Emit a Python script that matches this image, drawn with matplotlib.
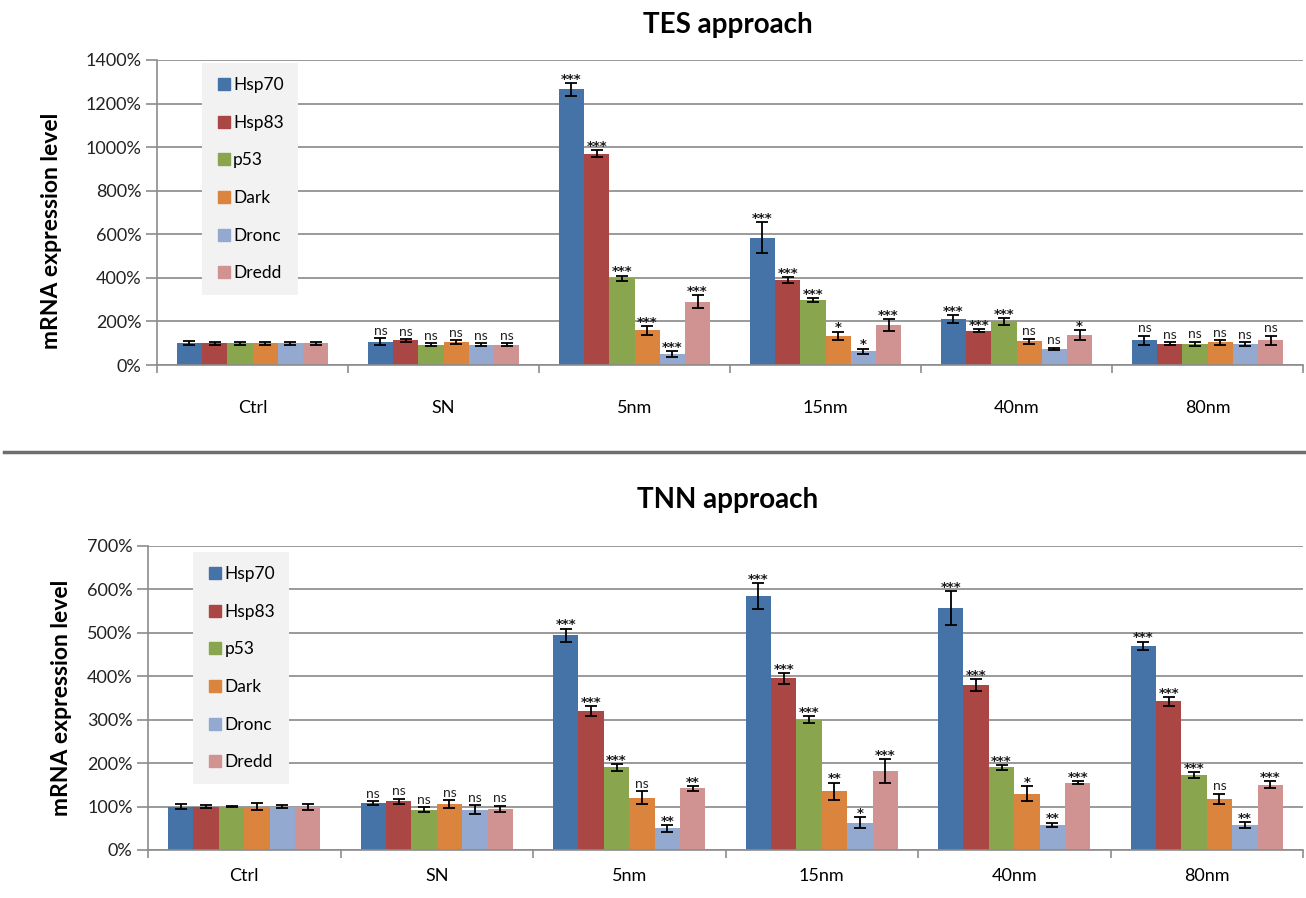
import numpy as np
import matplotlib
matplotlib.use("Agg")
import matplotlib.pyplot as plt
from matplotlib.lines import Line2D
from matplotlib.ticker import FuncFormatter, MultipleLocator

plt.rcParams['font.family'] = ['Lato', 'DejaVu Sans']

# groups along x and the genes in each group
groups = ['Ctrl', 'SN', '5nm', '15nm', '40nm', '80nm']
genes = ['Hsp70', 'Hsp83', 'p53', 'Dark', 'Dronc', 'Dredd']
colors = ['#4572A7', '#AA4643', '#89A54E', '#DB843D', '#93A9CF', '#D19392']

# TES approach: mean expression (%) per group, one row per gene
tes_hsp70 = [100, 107, 1265, 585, 210, 113]
tes_hsp83 = [100, 113, 970, 390, 158, 98]
tes_p53 = [100, 93, 398, 298, 200, 97]
tes_dark = [100, 105, 160, 133, 108, 104]
tes_dronc = [100, 93, 50, 62, 75, 96]
tes_dredd = [100, 93, 290, 183, 137, 113]

tes_err_hsp70 = [8, 15, 30, 70, 18, 22]
tes_err_hsp83 = [6, 6, 15, 15, 8, 8]
tes_err_p53 = [6, 6, 12, 8, 15, 10]
tes_err_dark = [6, 10, 20, 20, 12, 10]
tes_err_dronc = [6, 6, 12, 13, 5, 10]
tes_err_dredd = [6, 8, 30, 28, 22, 22]

tes_sig_hsp70 = ['', 'ns', '***', '***', '***', 'ns']
tes_sig_hsp83 = ['', 'ns', '***', '***', '***', 'ns']
tes_sig_p53 = ['', 'ns', '***', '***', '***', 'ns']
tes_sig_dark = ['', 'ns', '***', '*', 'ns', 'ns']
tes_sig_dronc = ['', 'ns', '***', '*', 'ns', 'ns']
tes_sig_dredd = ['', 'ns', '***', '***', '*', 'ns']

# TNN approach
tnn_hsp70 = [100, 108, 495, 585, 557, 470]
tnn_hsp83 = [100, 112, 320, 395, 380, 342]
tnn_p53 = [100, 93, 190, 300, 190, 173]
tnn_dark = [100, 105, 120, 135, 130, 118]
tnn_dronc = [100, 93, 50, 63, 58, 57]
tnn_dredd = [100, 95, 142, 182, 155, 150]

tnn_err_hsp70 = [6, 5, 15, 30, 40, 10]
tnn_err_hsp83 = [4, 6, 12, 13, 13, 10]
tnn_err_p53 = [1, 6, 8, 8, 5, 7]
tnn_err_dark = [8, 9, 15, 20, 18, 12]
tnn_err_dronc = [3, 10, 8, 13, 5, 7]
tnn_err_dredd = [7, 7, 5, 27, 3, 8]

tnn_sig_hsp70 = ['', 'ns', '***', '***', '***', '***']
tnn_sig_hsp83 = ['', 'ns', '***', '***', '***', '***']
tnn_sig_p53 = ['', 'ns', '***', '***', '***', '***']
tnn_sig_dark = ['', 'ns', 'ns', '**', '*', 'ns']
tnn_sig_dronc = ['', 'ns', '**', '*', '**', '**']
tnn_sig_dredd = ['', 'ns', '**', '***', '***', '***']

tes_values = [tes_hsp70, tes_hsp83, tes_p53, tes_dark, tes_dronc, tes_dredd]
tes_errors = [tes_err_hsp70, tes_err_hsp83, tes_err_p53, tes_err_dark, tes_err_dronc, tes_err_dredd]
tes_sigs = [tes_sig_hsp70, tes_sig_hsp83, tes_sig_p53, tes_sig_dark, tes_sig_dronc, tes_sig_dredd]
tnn_values = [tnn_hsp70, tnn_hsp83, tnn_p53, tnn_dark, tnn_dronc, tnn_dredd]
tnn_errors = [tnn_err_hsp70, tnn_err_hsp83, tnn_err_p53, tnn_err_dark, tnn_err_dronc, tnn_err_dredd]
tnn_sigs = [tnn_sig_hsp70, tnn_sig_hsp83, tnn_sig_p53, tnn_sig_dark, tnn_sig_dronc, tnn_sig_dredd]

W, H = 1306, 898
fig = plt.figure(figsize=(W / 100, H / 100), dpi=100)


def px_axes(left, right, top, bottom):
    return fig.add_axes([left / W, 1 - bottom / H, (right - left) / W, (bottom - top) / H])


def draw_panel(ax, values, errors, sigs, ymax, ystep, label_pad, legend_box, ylabel_xy):
    bar_w = 0.132
    centers = np.arange(len(groups)) + 0.5
    for i, gene in enumerate(genes):
        x = centers + (i - 2.5) * bar_w
        ax.bar(x, values[i], width=bar_w, color=colors[i], label=gene, zorder=2)
        ax.errorbar(x, values[i], yerr=errors[i], fmt='none', ecolor='black',
                    elinewidth=1.3, capsize=4, capthick=1.3, zorder=3)
        for xi, v, e, s in zip(x, values[i], errors[i], sigs[i]):
            if not s:
                continue
            if s == 'ns':
                ax.annotate(s, (xi, v + e), xytext=(0, 1), textcoords='offset points',
                            ha='center', va='bottom', fontsize=10, color='#222222')
            else:
                ax.annotate(s, (xi, v + e), xytext=(0, -2), textcoords='offset points',
                            ha='center', va='bottom', fontsize=9.5, color='#1a1a1a',
                            family='DejaVu Sans', fontweight='bold')

    ax.set_xlim(0, len(groups))
    ax.set_ylim(0, ymax)
    ax.yaxis.set_major_locator(MultipleLocator(ystep))
    ax.yaxis.set_major_formatter(FuncFormatter(lambda v, p: f'{v:.0f}%'))
    ax.grid(axis='y', color='#9a9a9a', linewidth=1.4)
    ax.set_axisbelow(True)

    # tick marks sit between groups, labels sit under the group centres
    ax.set_xticks(np.arange(len(groups) + 1))
    ax.set_xticklabels([])
    ax.set_xticks(centers, minor=True)
    ax.set_xticklabels(groups, minor=True, fontsize=13)
    ax.tick_params(axis='x', which='major', length=6, color='#8c8c8c', width=1.2, direction='out')
    ax.tick_params(axis='x', which='minor', length=0, pad=label_pad)
    ax.tick_params(axis='y', length=8, color='#8c8c8c', width=1.2, labelsize=13, pad=3,
                   labelcolor='#222222')

    for side in ['top', 'right']:
        ax.spines[side].set_visible(False)
    for side in ['left', 'bottom']:
        ax.spines[side].set_color('#8c8c8c')
        ax.spines[side].set_linewidth(1.2)

    ax.set_ylabel('mRNA expression level', fontsize=16.5, fontweight='bold')
    ax.yaxis.set_label_coords(*ylabel_xy)

    handles = [Line2D([], [], marker='s', linestyle='none', markersize=9,
                      markerfacecolor=c, markeredgecolor=c) for c in colors]
    leg = ax.legend(handles, genes, loc='upper left', bbox_to_anchor=legend_box,
                    fontsize=12.5, labelspacing=1.25, handletextpad=0.1, handlelength=0.9,
                    borderpad=0.8, borderaxespad=0, frameon=True, fancybox=False)
    leg.get_frame().set_facecolor('#f2f2f2')
    leg.get_frame().set_edgecolor('none')
    leg.get_frame().set_alpha(1)


ax_top = px_axes(157, 1303, 60, 365)
draw_panel(ax_top, tes_values, tes_errors, tes_sigs, 1400, 200, 25,
           ((202 - 157) / 1146, 0.99), (-0.083, 0.44))
fig.text(728 / W, 1 - 25 / H, 'TES approach', ha='center', va='center',
         fontsize=20, fontweight='bold')

ax_bot = px_axes(148, 1303, 546, 850)
draw_panel(ax_bot, tnn_values, tnn_errors, tnn_sigs, 700, 100, 13,
           ((193 - 148) / 1155, 0.98), (-0.066, 0.5))
fig.text(728 / W, 1 - 500 / H, 'TNN approach', ha='center', va='center',
         fontsize=20, fontweight='bold')

# divider between the two panels
fig.add_artist(Line2D([4 / W, 1], [1 - 452 / H, 1 - 452 / H], color='#6e6e6e', linewidth=2.5))

fig.savefig('out.png', dpi=100, facecolor='white')
